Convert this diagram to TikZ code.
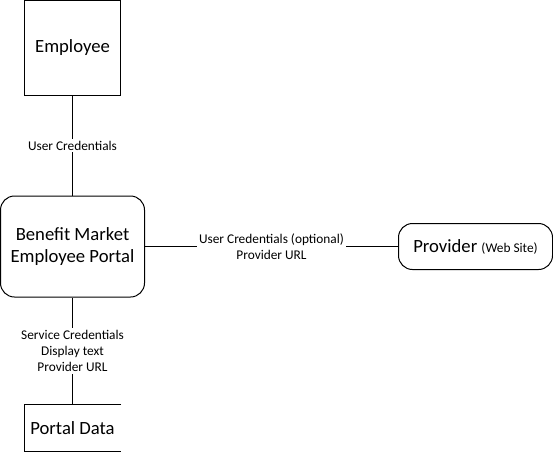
\documentclass[tikz,border=0pt]{standalone}
\usepackage{fontspec}
\setmainfont{Carlito}
\usepackage{tikz}
\usetikzlibrary{positioning}
\newcommand\lgfont{\fontsize{18.67}{22.4}\selectfont}
\newcommand\smfont{\fontsize{13.33}{16}\selectfont}
\tikzset{
	actor/.style ={rectangle, draw=black, line width=1pt, minimum width=96pt, minimum height=95pt, align=center, font=\lgfont},
	hub/.style   ={rectangle, rounded corners=14pt, draw=black, line width=1pt, minimum width=144pt, minimum height=101pt, align=center, font=\lgfont},
	site/.style  ={rectangle, rounded corners=14pt, draw=black, line width=1pt, minimum width=154pt, minimum height=46pt, align=center, font=\lgfont},
	% data store: drawn open on the right
	store/.style ={rectangle, line width=1pt, minimum width=96pt, minimum height=46pt, align=center, font=\lgfont},
	flow/.style  ={line width=1pt},
	flowlbl/.style={fill=white, inner sep=2pt, align=center, font=\smfont},
}
\begin{document}
\begin{tikzpicture}[x=1pt, y=-1pt]
	\useasboundingbox (0,0) rectangle (553,453);
	\node[hub] (portal) at (72.5,246.5) {Benefit Market\\ Employee Portal};
	\node[actor, above=100pt of portal] (emp) {Employee};
	\node[store, below=107pt of portal] (pdata) {Portal Data};
	\node[site, right=253pt of portal] (prov) {Provider {\smfont (Web Site)}};
	\draw[flow] (pdata.north east) -- (pdata.north west) -- (pdata.south west) -- (pdata.south east);
	\draw[flow] (emp) -- node[flowlbl] {User Credentials} (portal);
	\draw[flow] (portal) -- node[flowlbl] {User Credentials (optional)\\ Provider URL} (prov);
	\draw[flow] (portal) -- node[flowlbl] {Service Credentials\\ Display text\\ Provider URL} (pdata);
\end{tikzpicture}
\end{document}
